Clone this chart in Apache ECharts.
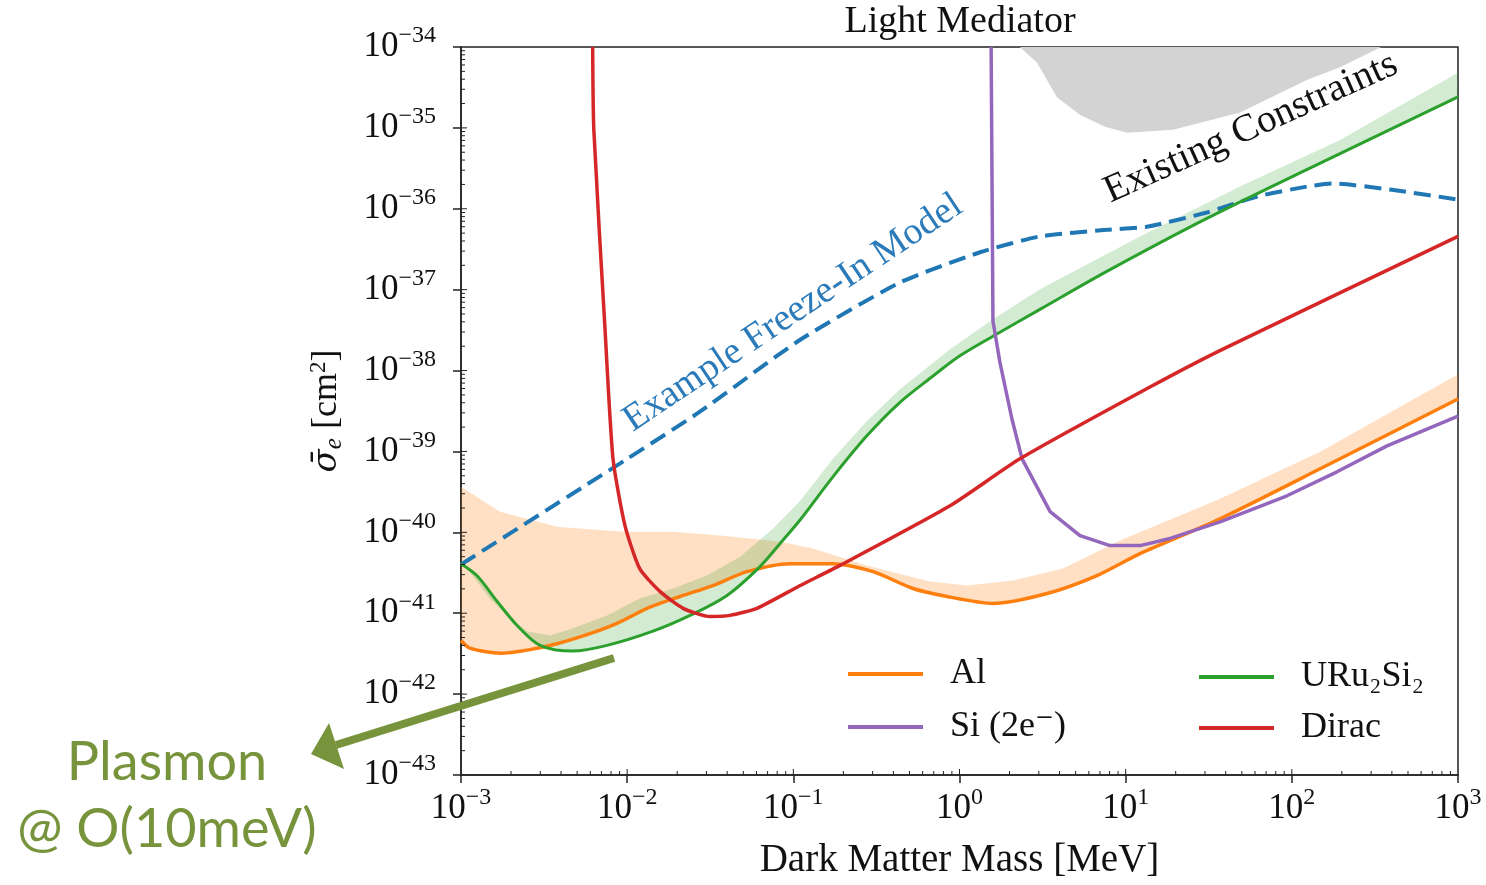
<!DOCTYPE html>
<html><head><meta charset="utf-8">
<script src="https://cdn.jsdelivr.net/npm/echarts@6/dist/echarts.min.js"></script>
<style>html,body{margin:0;padding:0;background:#fff}#c{width:1486px;height:885px}</style>
</head><body><div id="c"></div>
<script>
// ---------------- data (x in MeV, y in cm^2) ----------------
const alX = [1e-3, 1.13e-3, 1.72e-3, 2.5e-3, 3.78e-3, 5.97e-3, 8.69e-3, 0.0132, 0.0208, 0.0328, 0.0526, 0.0955, 0.173, 0.302, 0.525, 0.841, 1.59, 3.36, 6.72, 12.2, 37, 148, 1000];
const alY = [4.6e-42, 3.7e-42, 3.2e-42, 3.5e-42, 4.2e-42, 5.6e-42, 7.5e-42, 1.15e-41, 1.61e-41, 2.2e-41, 3.27e-41, 4.1e-41, 4.1e-41, 3.27e-41, 2.02e-41, 1.61e-41, 1.32e-41, 1.75e-41, 2.92e-41, 5.46e-41, 1.47e-40, 6.1e-40, 4.45e-39];
const alBandX = [1e-3, 1.72e-3, 3.78e-3, 9.44e-3, 0.0189, 0.0377, 0.0831, 0.131, 0.277, 0.664, 1.11, 2.1, 4.2, 9.25, 37, 148, 1000];
const alBandY = [3.66e-40, 1.8e-40, 1.17e-40, 1.02e-40, 1.02e-40, 9.1e-41, 7.7e-41, 6.3e-41, 3.88e-41, 2.47e-41, 2.2e-41, 2.54e-41, 3.56e-41, 7.9e-41, 2.6e-40, 9.9e-40, 9.0e-39];

const siX = [1.55, 1.59, 1.75, 2.07, 2.38, 3.51, 5.31, 8.05, 12.2, 18.5, 37, 93.5, 187, 374, 1000];
const siY = [1e-34, 4.1e-38, 1.27e-38, 2.5e-39, 8.1e-40, 1.8e-40, 9.1e-41, 6.85e-41, 6.85e-41, 8.4e-41, 1.35e-40, 2.83e-40, 5.6e-40, 1.17e-39, 2.74e-39];

const uruX = [1e-3, 1.25e-3, 1.65e-3, 2.17e-3, 2.99e-3, 4.72e-3, 7.56e-3, 0.0143, 0.0239, 0.0399, 0.063, 0.0831, 0.11, 0.173, 0.277, 0.44, 0.69, 1.0, 1.59, 3.05, 7.7, 30.8, 123, 1000];
const uruY = [4.1e-41, 2.9e-41, 1.4e-41, 7.1e-42, 4.0e-42, 3.4e-42, 4.0e-42, 6.0e-42, 9.4e-42, 1.66e-41, 3.77e-41, 7.24e-41, 1.43e-40, 4.85e-40, 1.56e-39, 4.08e-39, 8.5e-39, 1.51e-38, 2.66e-38, 5.7e-38, 1.68e-37, 7.6e-37, 3.05e-36, 2.42e-35];
const uruBandX = [1e-3, 1.09e-3, 1.49e-3, 1.89e-3, 2.5e-3, 3.43e-3, 4.72e-3, 7.56e-3, 0.0119, 0.0189, 0.0302, 0.0478, 0.0754, 0.11, 0.173, 0.277, 0.44, 0.877, 1.59, 3.05, 12.2, 48.8, 195, 1000];
const uruBandY = [4.0e-41, 3.56e-41, 1.52e-41, 9.4e-42, 6.0e-42, 5.3e-42, 6.5e-42, 9.4e-42, 1.52e-41, 2.02e-41, 2.92e-41, 5.0e-41, 1.11e-40, 2.45e-40, 8.1e-40, 2.38e-39, 5.9e-39, 1.84e-38, 4.3e-38, 1.01e-37, 4.55e-37, 1.88e-36, 7.1e-36, 4.8e-35];

const diracX = [6.2e-3, 6.3e-3, 7.36e-3, 8.22e-3, 9.7e-3, 0.0119, 0.0158, 0.0217, 0.0315, 0.0416, 0.0604, 0.11, 0.191, 0.877, 2.31, 14.0, 38.5, 1000];
const diracY = [1e-34, 9.5e-36, 3.2e-38, 8.1e-40, 1.21e-40, 3.56e-41, 1.85e-41, 1.15e-41, 9.1e-42, 9.4e-42, 1.15e-41, 2.2e-41, 3.9e-41, 2.13e-40, 8.1e-40, 6.25e-39, 1.84e-38, 4.55e-37];

const freezeX = [1e-3, 1e-2, 0.0274, 0.11, 0.44, 1.33, 3.05, 7.7, 13.4, 30.8, 62, 123, 177, 390, 1000];
const freezeY = [4.0e-41, 8.1e-40, 3.1e-39, 2.4e-38, 1.23e-37, 2.9e-37, 4.55e-37, 5.5e-37, 6.0e-37, 9.0e-37, 1.42e-36, 1.88e-36, 2.05e-36, 1.73e-36, 1.3e-36];

const constraintX = [2.31, 2.93, 3.86, 5.3, 7.5, 10.2, 19.3, 48.8, 123, 195, 345];
const constraintY = [1e-34, 6.4e-35, 2.4e-35, 1.45e-35, 1.03e-35, 8.7e-36, 9.5e-36, 1.55e-35, 3.9e-35, 5.6e-35, 1e-34];

const seriesNames = ['Al', 'Si (2e\u207B)', 'URu\u2082Si\u2082', 'Dirac'];
const xRange = [1e-3, 1e3];
const yRange = [1e-43, 1e-34];

// ---------------- helpers ----------------
const SERIF = '"Liberation Serif", "DejaVu Serif", serif';
const Y_UNIT = 1e-43;               // y axis is drawn in multiples of 1e-43 cm^2 (avoids float rounding in log ticks)
const Y_EXP0 = -43;
const pairs = (xs, ys) => xs.map((x, i) => [x, ys[i] / Y_UNIT]);
const yMinU = yRange[0] / Y_UNIT, yMaxU = yRange[1] / Y_UNIT;

function powLabel(e) {
  const s = e < 0 ? '\u2212' + (-e) : String(e);
  return '{b|10}{e|' + s + '}';
}
const rich = {
  b: { fontFamily: SERIF, fontSize: 35, color: '#111', lineHeight: 46 },
  e: { fontFamily: SERIF, fontSize: 24, color: '#111', lineHeight: 22, verticalAlign: 'top' }
};

function polygonSeries(name, pts, fill, z) {
  const data = pts;
  return {
    type: 'custom', name, coordinateSystem: 'cartesian2d', silent: true, clip: true, z,
    data,
    renderItem(params, api) {
      if (params.dataIndex !== 0) return null;
      const p = data.map(d => api.coord(d));
      return { type: 'polygon', shape: { points: p }, style: { fill, stroke: null } };
    }
  };
}
function bandPoints(upX, upY, loX, loY) {
  return pairs(upX, upY).concat(pairs(loX, loY).reverse());
}

// minor (and inner major) ticks
const xTickData = [], yTickData = [];
for (let k = -3; k <= 2; k++) for (let m = 1; m <= 9; m++) {
  if (k === -3 && m === 1) continue;
  xTickData.push([m * Math.pow(10, k), yMinU, m === 1 ? 6 : 4]);
}
for (let k = 0; k <= 8; k++) for (let m = 1; m <= 9; m++) {
  if (k === 0 && m === 1) continue;
  yTickData.push([xRange[0], m * Math.pow(10, k), m === 1 ? 6 : 4]);
}
function tickSeries(data, isX) {
  return {
    type: 'custom', coordinateSystem: 'cartesian2d', silent: true, clip: false, z: 20, data,
    renderItem(params, api) {
      const p = api.coord([api.value(0), api.value(1)]);
      const L = api.value(2);
      const shape = isX ? { x1: p[0], y1: p[1], x2: p[0], y2: p[1] - L }
                        : { x1: p[0], y1: p[1], x2: p[0] + L, y2: p[1] };
      return { type: 'line', shape, style: { stroke: '#222', lineWidth: 1 } };
    }
  };
}

function lineSeries(name, xs, ys, color, width, extra) {
  return Object.assign({
    type: 'line', name, data: pairs(xs, ys), showSymbol: false, symbol: 'none',
    color, lineStyle: { color, width }, itemStyle: { color }, z: 5, clip: true, silent: true
  }, extra || {});
}

const legendText = { fontFamily: SERIF, fontSize: 36, color: '#111', lineHeight: 40, padding: [0, 0, 0, 22] };

const option = {
  animation: false,
  backgroundColor: '#fff',
  grid: { left: 461, right: 28, top: 47, bottom: 108, show: true, borderColor: '#222', borderWidth: 1.5, backgroundColor: 'transparent' },
  xAxis: {
    type: 'log', logBase: 10, min: xRange[0], max: xRange[1],
    axisLine: { onZero: false, lineStyle: { color: '#222', width: 1.5 } },
    axisTick: { length: 8, lineStyle: { color: '#222', width: 1.5 } },
    axisLabel: { margin: 11, formatter: v => powLabel(Math.round(Math.log10(v))), rich },
    splitLine: { show: false }, minorTick: { show: false },
    name: 'Dark Matter Mass [MeV]', nameLocation: 'middle', nameGap: 66,
    nameTextStyle: { fontFamily: SERIF, fontSize: 39, color: '#111' }
  },
  yAxis: {
    type: 'log', logBase: 10, min: yMinU, max: yMaxU,
    axisLine: { onZero: false, lineStyle: { color: '#222', width: 1.5 } },
    axisTick: { length: 8, lineStyle: { color: '#222', width: 1.5 } },
    axisLabel: { margin: 25, formatter: v => powLabel(Math.round(Math.log10(v)) + Y_EXP0), rich },
    splitLine: { show: false }, minorTick: { show: false },
    name: '{s|\u03C3\u0304}{sub|e} [cm{sup|2}]', nameLocation: 'middle', nameGap: 114, nameRotate: 90,
    nameTextStyle: {
      fontFamily: SERIF, fontSize: 36, color: '#111',
      rich: {
        s: { fontFamily: '"DejaVu Serif", serif', fontStyle: 'italic', fontSize: 34, color: '#111', lineHeight: 40 },
        sub: { fontFamily: SERIF, fontStyle: 'italic', fontSize: 25, color: '#111', lineHeight: 40, verticalAlign: 'bottom', padding: [14, 0, 0, 0] },
        sup: { fontFamily: SERIF, fontSize: 23, color: '#111', lineHeight: 22, verticalAlign: 'top' }
      }
    }
  },
  legend: [
    { data: [seriesNames[0], seriesNames[1]], orient: 'vertical', left: 843, top: 649, icon: 'rect',
      itemWidth: 75, itemHeight: 4, itemGap: 13, selectedMode: false, textStyle: legendText },
    { data: [seriesNames[2], seriesNames[3]], orient: 'vertical', left: 1194, top: 652, icon: 'rect',
      itemWidth: 75, itemHeight: 4, itemGap: 11, selectedMode: false, textStyle: legendText }
  ],
  series: [
    polygonSeries('Existing Constraints', pairs(constraintX, constraintY), '#d3d3d3', 1),
    polygonSeries('Al band', bandPoints(alBandX, alBandY, alX, alY), 'rgba(255,127,14,0.24)', 2),
    polygonSeries('URu2Si2 band', bandPoints(uruBandX, uruBandY, uruX, uruY), 'rgba(44,160,44,0.21)', 2),
    lineSeries('Example Freeze-In Model', freezeX, freezeY, '#1f77b4', 4, { lineStyle: { color: '#1f77b4', width: 4, type: [17, 8] }, smooth: 0.2 }),
    lineSeries(seriesNames[0], alX, alY, '#ff7f0e', 3.5, { smooth: 0.25 }),
    lineSeries(seriesNames[2], uruX, uruY, '#2ca02c', 3, { smooth: 0.3 }),
    lineSeries(seriesNames[1], siX, siY, '#9467bd', 3.5, {}),
    lineSeries(seriesNames[3], diracX, diracY, '#d62728', 3.5, { smooth: 0.2 }),
    tickSeries(xTickData, true),
    tickSeries(yTickData, false)
  ],
  graphic: [
    { type: 'text', x: 960, y: 22, style: { text: 'Light Mediator', fontFamily: SERIF, fontSize: 38, fill: '#111', align: 'center', verticalAlign: 'middle' } },
    { type: 'text', x: 793, y: 313, rotation: 33.7 * Math.PI / 180, z: 30,
      style: { text: 'Example Freeze-In Model', fontFamily: SERIF, fontSize: 38, fill: '#2b7bba', align: 'center', verticalAlign: 'middle' } },
    { type: 'text', x: 1251, y: 128, rotation: 24.3 * Math.PI / 180, z: 30,
      style: { text: 'Existing Constraints', fontFamily: SERIF, fontSize: 39, fill: '#111', align: 'center', verticalAlign: 'middle' } },
    { type: 'line', z: 40, shape: { x1: 614, y1: 658, x2: 336, y2: 745 }, style: { stroke: '#77933c', lineWidth: 8 } },
    { type: 'polygon', z: 40, shape: { points: [[311, 754], [329, 723], [344, 769]] }, style: { fill: '#77933c' } },
    { type: 'text', x: 167, y: 763, z: 40, style: { text: 'Plasmon', fontFamily: 'Lato, "Open Sans", sans-serif', fontSize: 54, fill: '#77933c', align: 'center', verticalAlign: 'middle' } },
    { type: 'text', x: 167, y: 830, z: 40, style: { text: '@ O(10meV)', fontFamily: 'Lato, "Open Sans", sans-serif', fontSize: 54, fill: '#77933c', align: 'center', verticalAlign: 'middle' } }
  ]
};

const chart = echarts.init(document.getElementById('c'), null, { renderer: 'canvas', width: 1486, height: 885 });
chart.setOption(option);
</script>
</body></html>
